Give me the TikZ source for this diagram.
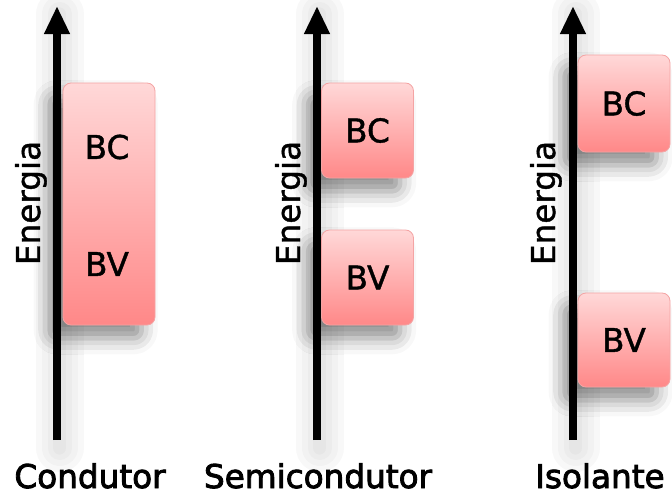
\documentclass[tikz,border=0pt]{standalone}
\usepackage{fontspec}
\setmainfont{DejaVu Sans}
\newfontfamily\bandfont[FakeBold=1.2]{DejaVu Sans}
\newfontfamily\namefont[FakeBold=2.6]{DejaVu Sans}
\usetikzlibrary{arrows.meta,shadows.blur}
\definecolor{bandtop}{HTML}{FFD8D8}
\definecolor{bandbot}{HTML}{FF8888}
\definecolor{bandedge}{HTML}{F4A4A4}
\definecolor{halo}{HTML}{8C8C8C}

\begin{document}
\begin{tikzpicture}[x=0.75pt,y=-0.75pt,
  band/.style={rounded corners=6pt,top color=bandtop,bottom color=bandbot,draw=bandedge,line width=0.6pt,minimum width=69pt,inner sep=0pt,font=\bandfont\fontsize{24.5}{28}\selectfont,blur shadow={shadow xshift=-10pt,shadow yshift=-10pt,shadow blur radius=12pt,shadow opacity=45}},
  txt/.style={font=\bandfont\fontsize{24.5}{28}\selectfont},
  matname/.style={font=\namefont\fontsize{24.5}{28}\selectfont,anchor=base},
  axis/.style={line width=6pt,-{Triangle[length=21pt,width=18pt]}},
  glow/.style={halo,line cap=round,opacity=.06}]
\useasboundingbox (0,0) rectangle (672,496);
% axis ends
\coordinate (condlo) at (57,440);  \coordinate (condhi) at (57,6);
\coordinate (semilo) at (317,440); \coordinate (semihi) at (317,6);
\coordinate (isollo) at (573,440); \coordinate (isolhi) at (573,6);
% soft shadow round the axes
\foreach \ax in {cond,semi,isol}{
  \foreach \w in {36,27,18,10}
    \draw[glow,line width=\w pt] ([xshift=2pt,yshift=-6pt]\ax lo) -- ([xshift=2pt,yshift=-6pt]\ax hi);
}
% bands
\node[band,minimum height=181.5pt] (condband) at (109,204) {};
\node[txt] (condBC) at (107,147) {BC};
\node[txt] (condBV) at (107,264) {BV};
\node[band,minimum height=71.25pt] (semiBC) at (367.5,130.5) {BC};
\node[band,minimum height=71.25pt] (semiBV) at (367.5,277.5) {BV};
\node[band,minimum height=72.75pt] (isolBC) at (624,103.5) {BC};
\node[band,minimum height=70.5pt] (isolBV) at (624,340) {BV};
% energy axes
\draw[axis] (condlo) -- (condhi);
\draw[axis] (semilo) -- (semihi);
\draw[axis] (isollo) -- (isolhi);
\node[txt,rotate=90,anchor=base] (condE) at (40,203) {Energia};
\node[txt,rotate=90,anchor=base] (semiE) at (300,203) {Energia};
\node[txt,rotate=90,anchor=base] (isolE) at (555,203) {Energia};
% material names
\node[matname] (condname) at (90,488) {Condutor};
\node[matname] (seminame) at (318,488) {Semicondutor};
\node[matname] (isolname) at (600,488) {Isolante};
\end{tikzpicture}
\end{document}
